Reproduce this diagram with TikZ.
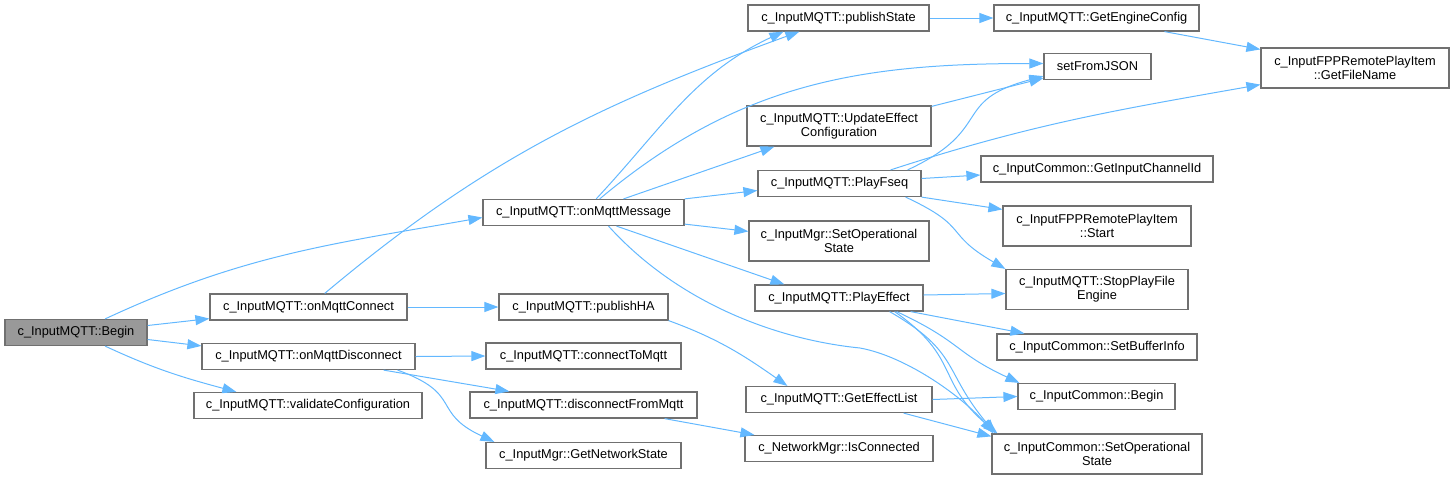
\documentclass[tikz,border=0pt]{standalone}
\usepackage{fontspec}
\setmainfont{Liberation Sans}
\usepackage{tikz}
\usetikzlibrary{arrows.meta,calc}

\definecolor{edgeblue}{HTML}{63B8FF}
\definecolor{boxline}{HTML}{707070}
\definecolor{rootfill}{HTML}{999999}

\tikzset{
  fn/.style={draw=boxline, line width=0.9pt, fill=white, inner sep=1pt,
    minimum height=19.5pt, align=center,
    font=\fontsize{9.6}{10.6}\selectfont},
  twoline/.style={minimum height=30pt},
  wd/.style={minimum width=#1*0.75pt},
  root/.style={fn, fill=rootfill},
  call/.style={draw=edgeblue, line width=0.75pt,
    -{Triangle[length=10.5pt,width=7.5pt]}},
}

\begin{document}
\begin{tikzpicture}[x=0.75pt,y=-0.75pt,every edge/.style={call}]
  \useasboundingbox (0,0) rectangle (1451,479);

  % first column
  \node[root,wd=142] (begin) at (76,332.5) {c\_InputMQTT::Begin};
  % second column
  \node[fn,wd=197] (conn)  at (308.5,307)   {c\_InputMQTT::onMqttConnect};
  \node[fn,wd=213] (disc)  at (308.5,356.5) {c\_InputMQTT::onMqttDisconnect};
  \node[fn,wd=228] (valid) at (308,405.5)   {c\_InputMQTT::validateConfiguration};
  % third column
  \node[fn,wd=201] (msg) at (583.5,212.5) {c\_InputMQTT::onMqttMessage};
  \node[fn,wd=169] (pha) at (583.5,307)   {c\_InputMQTT::publishHA};
  \node[fn,wd=195] (ctm) at (583.5,356)   {c\_InputMQTT::connectToMqtt};
  \node[fn,wd=227] (dfm) at (583.5,405)   {c\_InputMQTT::disconnectFromMqtt};
  \node[fn,wd=195] (gns) at (583.5,455.5) {c\_InputMgr::GetNetworkState};
  % fourth column
  \node[fn,wd=181] (pubst) at (838.5,18) {c\_InputMQTT::publishState};
  \node[fn,twoline,wd=184] (upd) at (839,126) {c\_InputMQTT::UpdateEffect\\Configuration};
  \node[fn,wd=163] (fseq) at (839.5,183.5) {c\_InputMQTT::PlayFseq};
  \node[fn,twoline,wd=180] (mgrop) at (839,241) {c\_InputMgr::SetOperational\\State};
  \node[fn,wd=168] (peff) at (839,298)   {c\_InputMQTT::PlayEffect};
  \node[fn,wd=186] (gel)  at (839,399.5) {c\_InputMQTT::GetEffectList};
  \node[fn,wd=188] (isc)  at (839,448.5) {c\_NetworkMgr::IsConnected};
  % fifth column
  \node[fn,wd=205] (geng) at (1096.5,18)  {c\_InputMQTT::GetEngineConfig};
  \node[fn,wd=107] (json) at (1097.5,66.5) {setFromJSON};
  \node[fn,wd=232] (gich) at (1097,169)  {c\_InputCommon::GetInputChannelId};
  \node[fn,twoline,wd=188] (fppstart) at (1097,226) {c\_InputFPPRemotePlayItem\\::Start};
  \node[fn,twoline,wd=182] (stop) at (1097,289.5) {c\_InputMQTT::StopPlayFile\\Engine};
  \node[fn,wd=200] (sbuf) at (1097,347)   {c\_InputCommon::SetBufferInfo};
  \node[fn,wd=157] (icb)  at (1096.5,396.5) {c\_InputCommon::Begin};
  \node[fn,twoline,wd=210] (cop) at (1097,454) {c\_InputCommon::SetOperational\\State};
  % last column
  \node[fn,twoline,wd=188] (gfn) at (1355,68) {c\_InputFPPRemotePlayItem\\::GetFileName};

  \path
   (begin) edge[out=25,in=190] ($(msg.west)+(0,5)$)
   ($(begin.east)+(0,-7)$) edge ($(conn.south west)+(0,-2)$)
   ($(begin.east)+(0,7)$) edge ($(disc.north west)+(0,3)$)
   (begin) edge[out=-25,in=165] ($(valid.north west)+(43,0)$)
   (conn) edge[out=40,in=200] ($(pubst.south west)+(52,0)$)
   (conn.east) edge (pha.west)
   (disc.east) edge (ctm.west)
   ($(disc.south east)+(-32,0)$) edge ($(dfm.north west)+(40,0)$)
   ($(disc.south east)+(-18,0)$) edge[out=-20,in=155,looseness=1.5] ($(gns.north west)+(9,0)$)
   (pha.south east) edge[out=-20,in=145] ($(gel.north west)+(42,0)$)
   ($(dfm.south east)+(-33,0)$) edge ($(isc.north west)+(10,0)$);

  \path
   (msg) edge[out=47,in=205] ($(pubst.south west)+(36,0)$)
   (msg) edge[out=40,in=180] ($(json.west)+(0,-3)$)
   ($(msg.north)+(40,0)$) edge ($(upd.south west)+(28,0)$)
   (msg.north east) edge ($(fseq.west)+(0,7)$)
   ($(msg.south east)+(0,-2)$) edge ($(mgrop.north west)+(0,11)$)
   ($(msg.south)+(33,0)$) edge ($(peff.north west)+(30,0)$);
  \draw[call] ($(msg.south)+(25,0)$) .. controls (680,305) and (780,340) .. (860,348)
    .. controls (909,357) and (966,400) .. ($(cop.north west)+(2,0)$);

  \path
   (pubst.east) edge (geng.west)
   ($(geng.south)+(68,0)$) edge ($(gfn.north west)+(0,2)$)
   ($(upd.north east)+(0,1)$) edge ($(json.south west)+(0,-2)$)
   ($(fseq.north east)+(-14,0)$) edge[out=25,in=195,looseness=1.5] ($(json.south west)+(0,-4)$)
   ($(fseq.north east)+(-31,0)$) edge[out=18,in=190] ($(gfn.south west)+(0,-4)$)
   ($(fseq.east)+(0,-5)$) edge ($(gich.west)+(0,6)$)
   (fseq.south east) edge ($(fppstart.north west)+(0,4)$)
   ($(fseq.south east)+(-16,0)$) edge[out=-25,in=150,looseness=1.5] (stop.north west)
   ($(peff.east)+(0,-3)$) edge ($(stop.west)+(0,4)$)
   ($(peff.south east)+(-13,0)$) edge ($(sbuf.north west)+(28,0)$)
   ($(peff.south east)+(-27,0)$) edge[out=-25,in=155,looseness=1.3] ($(icb.north west)+(2,0)$)
   ($(peff.south east)+(-34,0)$) edge[out=-30,in=130,looseness=1.3] ($(cop.north west)+(4,0)$)
   ($(peff.south east)+(-29,0)$) edge[out=-35,in=140,looseness=1.3] ($(cop.north west)+(6,0)$)
   (gel.east) edge (icb.west)
   ($(gel.south east)+(-29,0)$) edge ($(cop.north west)+(0,3)$);
\end{tikzpicture}
\end{document}
